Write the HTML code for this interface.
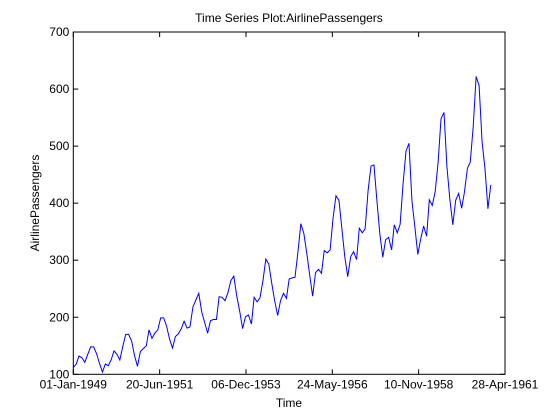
<!DOCTYPE html>
<html><head><meta charset="utf-8"><style>
body{margin:0;background:#fff;}
svg{display:block;font-family:"Liberation Sans",sans-serif;}
</style></head><body>
<svg id="chart" width="560" height="420" viewBox="0 0 560 420">
<rect width="560" height="420" fill="#fff"/>
<text x="289" y="22" font-size="12" text-anchor="middle">Time Series Plot:AirlinePassengers</text>
<text x="289" y="407" font-size="12" text-anchor="middle">Time</text>
<text transform="translate(39,203) rotate(-90)" font-size="12" text-anchor="middle">AirlinePassengers</text>
<g id="axes"></g>
</svg>
<script>
const passengers=[112,118,132,129,121,135,148,148,136,119,104,118,
115,126,141,135,125,149,170,170,158,133,114,140,
145,150,178,163,172,178,199,199,184,162,146,166,
171,180,193,181,183,218,230,242,209,191,172,194,
196,196,236,235,229,243,264,272,237,211,180,201,
204,188,235,227,234,264,302,293,259,229,203,229,
242,233,267,269,270,315,364,347,312,274,237,278,
284,277,317,313,318,374,413,405,355,306,271,306,
315,301,356,348,355,422,465,467,404,347,305,336,
340,318,362,348,363,435,491,505,404,359,310,337,
360,342,406,396,420,472,548,559,463,407,362,405,
417,391,419,461,472,535,622,606,508,461,390,432];
const startYear=1949;
const yTicks=[100,200,300,400,500,600,700];
const xTickLabels=["01-Jan-1949","20-Jun-1951","06-Dec-1953","24-May-1956","10-Nov-1958","28-Apr-1961"];
const xTickDays=[0,900,1800,2700,3600,4500];

const L=73.3,R=505,T=32,B=374.3;
const DAY=86400000, t0=Date.UTC(1949,0,1);
const xs=d=>L+d/4500*(R-L);
const ys=v=>B-(v-100)/600*(B-T);
const g=document.getElementById('axes');
const NS="http://www.w3.org/2000/svg";
function mk(tag,attrs){const e=document.createElementNS(NS,tag);for(const k in attrs)e.setAttribute(k,attrs[k]);g.appendChild(e);return e;}

let pts=passengers.map((v,i)=>{const d=(Date.UTC(startYear+Math.floor(i/12),i%12,1)-t0)/DAY;return xs(d).toFixed(2)+","+ys(v).toFixed(2);});
const line=mk('polyline',{points:pts.join(' '),fill:'none',stroke:'#0000ff','stroke-width':1});



const box=mk('rect',{x:L,y:T,width:R-L,height:B-T,fill:'none',stroke:'#000','stroke-width':1});



yTicks.forEach(v=>{const y=ys(v);
mk('line',{x1:L,x2:L+5,y1:y,y2:y,stroke:'#000'});
mk('line',{x1:R,x2:R-5,y1:y,y2:y,stroke:'#000'});
const t=mk('text',{x:L-4,y:y+4,'font-size':12,'text-anchor':'end'});t.textContent=v;


});
xTickDays.forEach((d,i)=>{const x=xs(d);
mk('line',{x1:x,x2:x,y1:B,y2:B-5,stroke:'#000'});
mk('line',{x1:x,x2:x,y1:T,y2:T+5,stroke:'#000'});
const t=mk('text',{x:x,y:B+14,'font-size':12,'text-anchor':'middle'});t.textContent=xTickLabels[i];


});
</script>
</body></html>
